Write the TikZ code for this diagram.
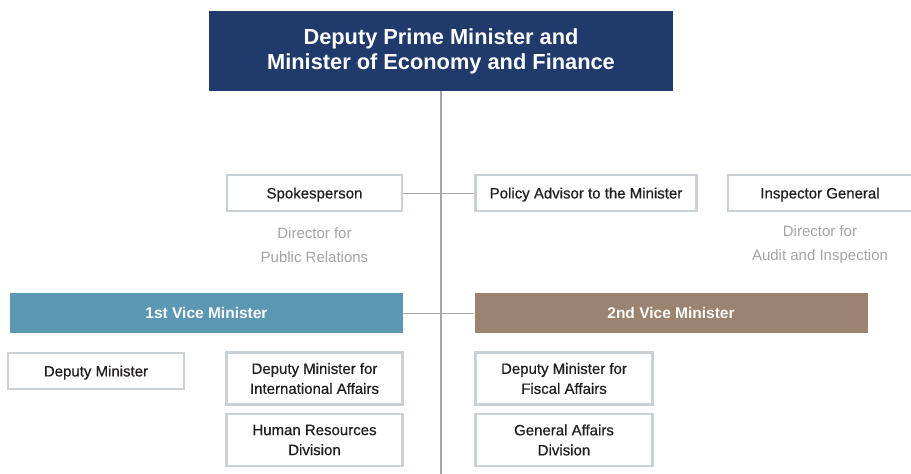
\documentclass[tikz,border=0pt]{standalone}
\usepackage{fontspec}
\setmainfont{Liberation Sans}
\newfontfamily\officefont[FakeBold=0.6]{Liberation Sans}
\usepackage{xcolor}
\definecolor{mofnavy}{HTML}{1F3A6B}
\definecolor{mofblue}{HTML}{5C97B4}
\definecolor{mofbrown}{HTML}{9B8370}
\definecolor{mofframe}{HTML}{C9D1D7}
\definecolor{mofline}{HTML}{A6A6A6}
\definecolor{moftext}{HTML}{231F20}
\definecolor{mofgrey}{HTML}{A3A3A3}

\begin{document}
\begin{tikzpicture}[x=1pt, y=-1pt, every node/.style={inner sep=0pt, align=center}, head/.style={fill=mofnavy, text=white, minimum width=464pt, minimum height=80pt, font=\bfseries\fontsize{21.8}{25}\selectfont}, office/.style={draw=mofframe, line width=2.4pt, fill=white, text=moftext, minimum height=#1, font=\officefont\fontsize{15}{20}\selectfont}, office/.default=36pt, deputy/.style={fill=#1, text=white, minimum width=393pt, minimum height=40pt, font=\bfseries\fontsize{15.5}{18}\selectfont}, aide/.style={text=mofgrey, font=\fontsize{15}{24}\selectfont}, link/.style={draw=mofline, line width=#1}, link/.default=1pt]
  \path[use as bounding box, clip] (0,0) rectangle (911,474);
  \node[head] (minister) at (441,51) {Deputy Prime Minister and\\Minister of Economy and Finance};
  \node[office, minimum width=175pt, text depth=0pt] (spokes) at (314.5,193) {Spokesperson};
  \node[office, minimum width=221pt, text depth=0pt] (advisor) at (586,193) {Policy Advisor to the Minister};
  \node[office, minimum width=184pt, text depth=0pt] (inspector) at (820,193) {Inspector General};
  \node[aide] (pubrel) at (314.5,245) {Director for\\Public Relations};
  \node[aide] (audit) at (820,245) {Director for\\Audit and Inspection};
  \node[deputy=mofblue] (vice1) at (206.5,313) {1st Vice Minister};
  \node[deputy=mofbrown] (vice2) at (671,313) {2nd Vice Minister};
  \node[office, minimum width=176pt, text depth=0pt] (depmin) at (96,371) {Deputy Minister};
  \node[office=52pt, minimum width=176pt] (intl) at (314.5,378.5) {Deputy Minister for\\International Affairs};
  \node[office=52pt, minimum width=176pt] (hr) at (314.5,440) {Human Resources\\Division};
  \node[office=52pt, minimum width=177pt] (fiscal) at (564,378.5) {Deputy Minister for\\Fiscal Affairs};
  \node[office=52pt, minimum width=177pt] (general) at (564,440) {General Affairs\\Division};
  \coordinate (spine) at (441,474);
  \draw[link=1.6pt] (minister.south) -- (spine);
  \draw[link] (spokes.east) -- (advisor.west);
  \draw[link] (vice1.east) -- (vice2.west);
\end{tikzpicture}
\end{document}
